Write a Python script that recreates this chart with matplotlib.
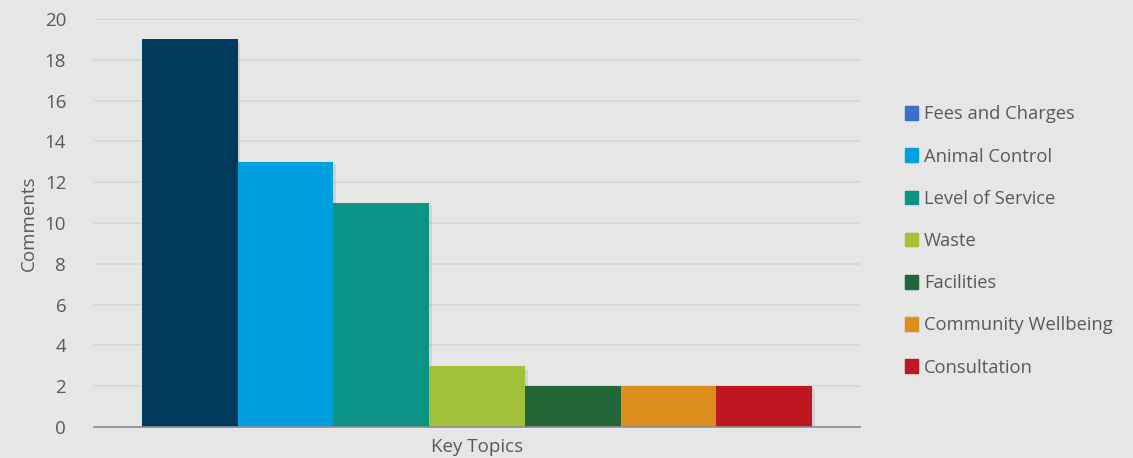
import matplotlib.pyplot as plt
import matplotlib.patches as mpatches
import matplotlib.patheffects as pe

topics = ["Fees and Charges", "Animal Control", "Level of Service", "Waste",
          "Facilities", "Community Wellbeing", "Consultation"]
comments = [19, 13, 11, 3, 2, 2, 2]
colors = ["#003A5D", "#009FE0", "#0B9384", "#A2C13A", "#226638", "#DC8F1C", "#BE171F"]
legend_colors = ["#3F6FCC"] + colors[1:]

bg = "#E6E6E6"
txt = "#595959"
plt.rcParams['font.family'] = ['Open Sans', 'DejaVu Sans']

fig = plt.figure(figsize=(11.33, 4.58), dpi=100, facecolor=bg)
ax = fig.add_axes([94 / 1133, 1 - 427 / 458, (860 - 94) / 1133, (427 - 19) / 458])
ax.set_facecolor(bg)

# soft drop shadow like the office chart
shadow = [pe.SimplePatchShadow(offset=(2, -2), shadow_rgbFace="#000000", alpha=0.08), pe.Normal()]
for i in range(len(topics)):
    b = ax.bar(i, comments[i], width=1.0, align='edge', color=colors[i], zorder=3)
    for p in b:
        p.set_path_effects(shadow)

ax.set_xlim(-0.5, 7.5)
ax.set_ylim(0, 20)
ax.set_yticks(range(0, 21, 2))
ax.set_xticks([])
ax.grid(axis='y', color="#D6D6D6", linewidth=1.2, zorder=0)
for s in ["top", "right", "left"]:
    ax.spines[s].set_visible(False)
ax.spines["bottom"].set_color("#8C8C8C")
ax.spines["bottom"].set_linewidth(1.2)
ax.spines["bottom"].set_zorder(4)
ax.tick_params(axis='y', length=0, labelsize=13.5, labelcolor=txt, pad=20)
ax.set_ylabel("Comments", fontsize=13.5, color=txt, labelpad=5)
ax.set_xlabel("Key Topics", fontsize=13.5, color=txt, labelpad=8)

handles = [mpatches.Patch(color=c) for c in legend_colors]
fig.legend(handles, topics, loc='center left', bbox_to_anchor=(888 / 1133, 1 - 241 / 458),
           frameon=False, fontsize=13.2, labelcolor=txt, handlelength=0.75, handleheight=0.75,
           handletextpad=0.3, labelspacing=1.32)

fig.savefig("out.png", dpi=100, facecolor=bg)
